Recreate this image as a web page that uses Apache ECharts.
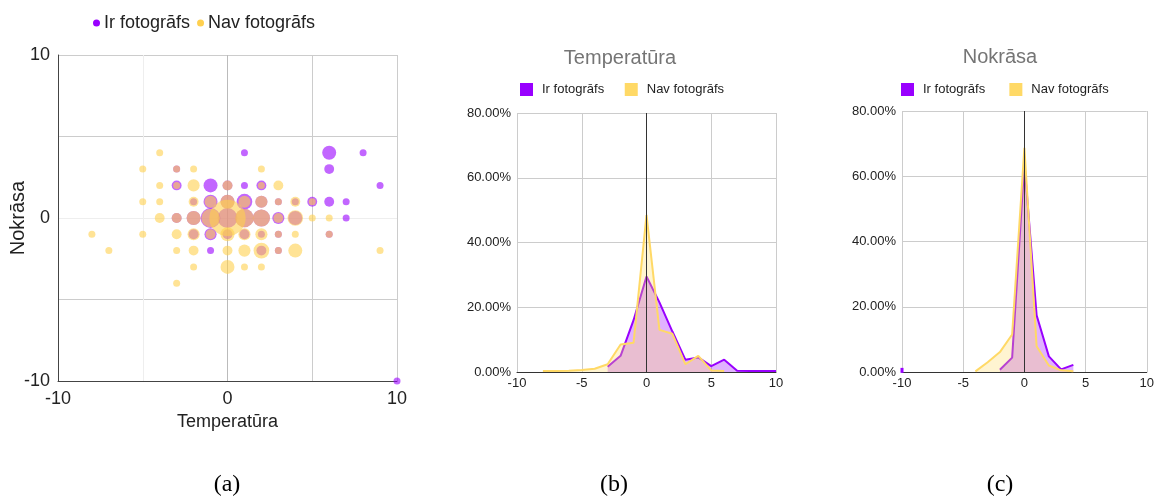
<!DOCTYPE html>
<html>
<head>
<meta charset="utf-8">
<script src="https://cdn.jsdelivr.net/npm/echarts@6/dist/echarts.min.js"></script>
<style>
  html, body { margin: 0; padding: 0; background: #fff; }
  #main { width: 1157px; height: 497px; }
</style>
</head>
<body>
<div id="main"></div>
<script>
// scatter: [temperatūra, nokrāsa, count]
const photoPts = [
  [1, 4, 1], [6, 4, 4], [8, 4, 1],
  [-3, 3, 1], [6, 3, 2],
  [-3, 2, 2], [-1, 2, 4], [0, 2, 2], [1, 2, 1], [2, 2, 2], [9, 2, 1],
  [-2, 1, 1], [-1, 1, 4], [0, 1, 4], [1, 1, 5], [2, 1, 3], [3, 1, 1], [4, 1, 1], [5, 1, 2], [6, 1, 2], [7, 1, 1],
  [-3, 0, 2], [-2, 0, 4], [-1, 0, 8], [0, 0, 8], [1, 0, 7], [2, 0, 6], [3, 0, 3], [4, 0, 4], [7, 0, 1],
  [-2, -1, 2], [-1, -1, 3], [0, -1, 2], [1, -1, 2], [2, -1, 1], [3, -1, 1], [6, -1, 1],
  [-1, -2, 1], [2, -2, 2], [3, -2, 1],
  [10, -10, 1]
]
const noPhotoPts = [
  [-4, 4, 1],
  [-5, 3, 1], [-3, 3, 1], [-2, 3, 1], [2, 3, 1],
  [-4, 2, 1], [-3, 2, 1], [-2, 2, 3], [0, 2, 2], [2, 2, 1], [3, 2, 2],
  [-5, 1, 1], [-4, 1, 1], [-2, 1, 2], [-1, 1, 3], [0, 1, 4], [1, 1, 3], [2, 1, 3], [3, 1, 1], [4, 1, 2], [5, 1, 1],
  [-4, 0, 2], [-3, 0, 2], [-2, 0, 4], [-1, 0, 7], [0, 0, 27], [1, 0, 7], [2, 0, 6], [3, 0, 2], [4, 0, 5], [5, 0, 1], [6, 0, 1],
  [-8, -1, 1], [-5, -1, 1], [-3, -1, 2], [-2, -1, 3], [-1, -1, 2], [0, -1, 4], [1, -1, 3], [2, -1, 3], [3, -1, 1], [4, -1, 1], [6, -1, 1],
  [-7, -2, 1], [-3, -2, 1], [-2, -2, 2], [0, -2, 2], [1, -2, 3], [2, -2, 5], [3, -2, 1], [4, -2, 4], [9, -2, 1],
  [-2, -3, 1], [0, -3, 4], [1, -3, 1], [2, -3, 1],
  [-3, -4, 1]
]

// histograms, x = -10 .. 10, values in %
const xSteps = [-10, -9, -8, -7, -6, -5, -4, -3, -2, -1, 0, 1, 2, 3, 4, 5, 6, 7, 8, 9, 10]
const tempPhoto = [null, null, null, null, null, null, null, 1.6, 5, 16, 29.5, 21.5, 12.5, 3.8, 4.5, 1.8, 3.8, 0.4, 0.3, 0.3, 0.3]
const tempNoPhoto = [null, null, 0.3, 0.3, 0.4, 0.6, 1.0, 2.4, 8.5, 9, 48.5, 13, 11.8, 2.4, 5, 0.5, 0.3, null, null, null, null]
const nokPhoto = [0.5, null, null, null, null, null, null, null, 0.7, 4.4, 64, 17.4, 4.8, 0.8, 2.2, null, null, null, null, null, null]
const nokNoPhoto = [null, null, null, null, null, null, 0.2, 3, 6.1, 11.5, 68.7, 7.9, 2, 0.5, 0.2, null, null, null, null, null, null]

const scatterTicks = [-10, 0, 10]

const PURPLE = '#9900ff'
const YELLOW = '#ffd966'
const FONT = 'Liberation Sans, Arial, sans-serif'

const pairs = (vals) => xSteps.map((x, i) => {
  if (vals[i] == null) return [x, null]
  const lone = (vals[i - 1] == null) && (vals[i + 1] == null)
  return lone ? { value: [x, vals[i]], symbol: 'rect', symbolSize: [3, 5] } : [x, vals[i]]
})

const chart = echarts.init(document.getElementById('main'))

const pctYAxis = (gi) => ({
  gridIndex: gi, type: 'value', min: 0, max: 80, interval: 20,
  axisLine: { show: false }, axisTick: { show: false },
  axisLabel: { fontFamily: FONT, fontSize: 13, color: '#222', margin: 6, formatter: v => v.toFixed(2) + '%' },
  splitLine: { lineStyle: { color: ['#333', '#ccc', '#ccc', '#ccc', '#ccc'] } }
})
const pctXAxis = (gi) => ({
  gridIndex: gi, type: 'value', min: -10, max: 10, interval: 5,
  axisLine: { show: true, onZero: false, lineStyle: { color: '#333' } }, axisTick: { show: false },
  axisLabel: { fontFamily: FONT, fontSize: 13, color: '#222', margin: 5 },
  splitLine: { lineStyle: { color: ['#ccc', '#ccc', 'transparent', '#ccc', '#ccc'] } }
})

const lineSeries = (name, color, vals, gi, zeroLine) => ({
  name, type: 'line', xAxisIndex: gi, yAxisIndex: gi,
  data: pairs(vals), showSymbol: true, symbolSize: 0, symbol: 'none',
  connectNulls: false,
  itemStyle: { color },
  lineStyle: { color, width: 2 },
  areaStyle: { color, opacity: 0.3 },
  z: color === YELLOW ? 3 : 2,
  markLine: zeroLine ? {
    silent: true, symbol: 'none', label: { show: false },
    lineStyle: { color: '#333', width: 1, type: 'solid' },
    data: [{ xAxis: 0 }]
  } : undefined
})

const text = (str, x, y, size, color, family) => ({
  type: 'text', x, y,
  style: { text: str, fill: color, font: size + 'px ' + family, textAlign: 'center', textVerticalAlign: 'middle' }
})

chart.setOption({
  animation: false,
  backgroundColor: '#fff',
  grid: [
    { left: 58, top: 55, width: 339, height: 326 },
    { left: 517, top: 113, width: 259, height: 259 },
    { left: 902, top: 111, width: 248, height: 261 }
  ],
  legend: [
    {
      left: 88, top: 9, icon: 'circle', itemWidth: 7, itemHeight: 7, itemGap: 7,
      itemStyle: { opacity: 1 },
      textStyle: { fontFamily: FONT, fontSize: 18, color: '#222', padding: [0, 0, 0, -1] },
      data: ['Ir fotogrāfs', 'Nav fotogrāfs'], selectedMode: false
    },
    {
      left: 515, top: 78, icon: 'rect', itemWidth: 13, itemHeight: 13, itemGap: 17,
      textStyle: { fontFamily: FONT, fontSize: 13, color: '#222', padding: [0, 0, 0, 4] },
      data: ['Ir fotogrāfs ', 'Nav fotogrāfs '], selectedMode: false
    },
    {
      left: 896, top: 78, icon: 'rect', itemWidth: 13, itemHeight: 13, itemGap: 17,
      textStyle: { fontFamily: FONT, fontSize: 13, color: '#222', padding: [0, 0, 0, 4] },
      data: ['Ir fotogrāfs  ', 'Nav fotogrāfs  '], selectedMode: false
    }
  ],
  xAxis: [
    {
      gridIndex: 0, type: 'value', min: -10, max: 10, interval: 5,
      name: 'Temperatūra', nameLocation: 'middle', nameGap: 30,
      nameTextStyle: { fontFamily: FONT, fontSize: 18, color: '#222' },
      axisLine: { show: true, onZero: false, lineStyle: { color: '#444' } }, axisTick: { show: false },
      axisLabel: { fontFamily: FONT, fontSize: 18, color: '#222', margin: 9,
        formatter: v => scatterTicks.includes(v) ? String(v) : '' },
      splitLine: { lineStyle: { color: ['#ccc', '#eee', '#bbb', '#ccc', '#ccc'] } }
    },
    pctXAxis(1),
    pctXAxis(2)
  ],
  yAxis: [
    {
      gridIndex: 0, type: 'value', min: -10, max: 10, interval: 5,
      name: 'Nokrāsa', nameLocation: 'middle', nameGap: 30, nameRotate: 90,
      nameMoveOverlap: false,
      nameTextStyle: { fontFamily: FONT, fontSize: 20, color: '#222' },
      axisLine: { show: true, onZero: false, lineStyle: { color: '#444' } }, axisTick: { show: false },
      axisLabel: { fontFamily: FONT, fontSize: 18, color: '#222', margin: 8,
        formatter: v => scatterTicks.includes(v) ? String(v) : '' },
      splitLine: { lineStyle: { color: ['#ccc', '#ccc', '#eee', '#ccc', '#ccc'] } }
    },
    pctYAxis(1),
    pctYAxis(2)
  ],
  series: [
    {
      name: 'Ir fotogrāfs', type: 'scatter', xAxisIndex: 0, yAxisIndex: 0,
      data: photoPts, symbolSize: d => 7 * Math.sqrt(d[2]),
      itemStyle: { color: PURPLE, opacity: 0.6 }, z: 2
    },
    {
      name: 'Nav fotogrāfs', type: 'scatter', xAxisIndex: 0, yAxisIndex: 0,
      data: noPhotoPts, symbolSize: d => 7 * Math.sqrt(d[2]),
      itemStyle: { color: '#ffd04f', opacity: 0.6 }, z: 3
    },
    lineSeries('Ir fotogrāfs ', PURPLE, tempPhoto, 1, true),
    lineSeries('Nav fotogrāfs ', YELLOW, tempNoPhoto, 1, false),
    lineSeries('Ir fotogrāfs  ', PURPLE, nokPhoto, 2, true),
    lineSeries('Nav fotogrāfs  ', YELLOW, nokNoPhoto, 2, false)
  ],
  graphic: [
    text('Temperatūra', 620, 58, 20, '#757575', FONT),
    text('Nokrāsa', 1000, 57, 20, '#757575', FONT),
    text('(a)', 227, 485, 24, '#000', 'Liberation Serif, serif'),
    text('(b)', 614, 485, 24, '#000', 'Liberation Serif, serif'),
    text('(c)', 1000, 485, 24, '#000', 'Liberation Serif, serif')
  ]
})
</script>
</body>
</html>
